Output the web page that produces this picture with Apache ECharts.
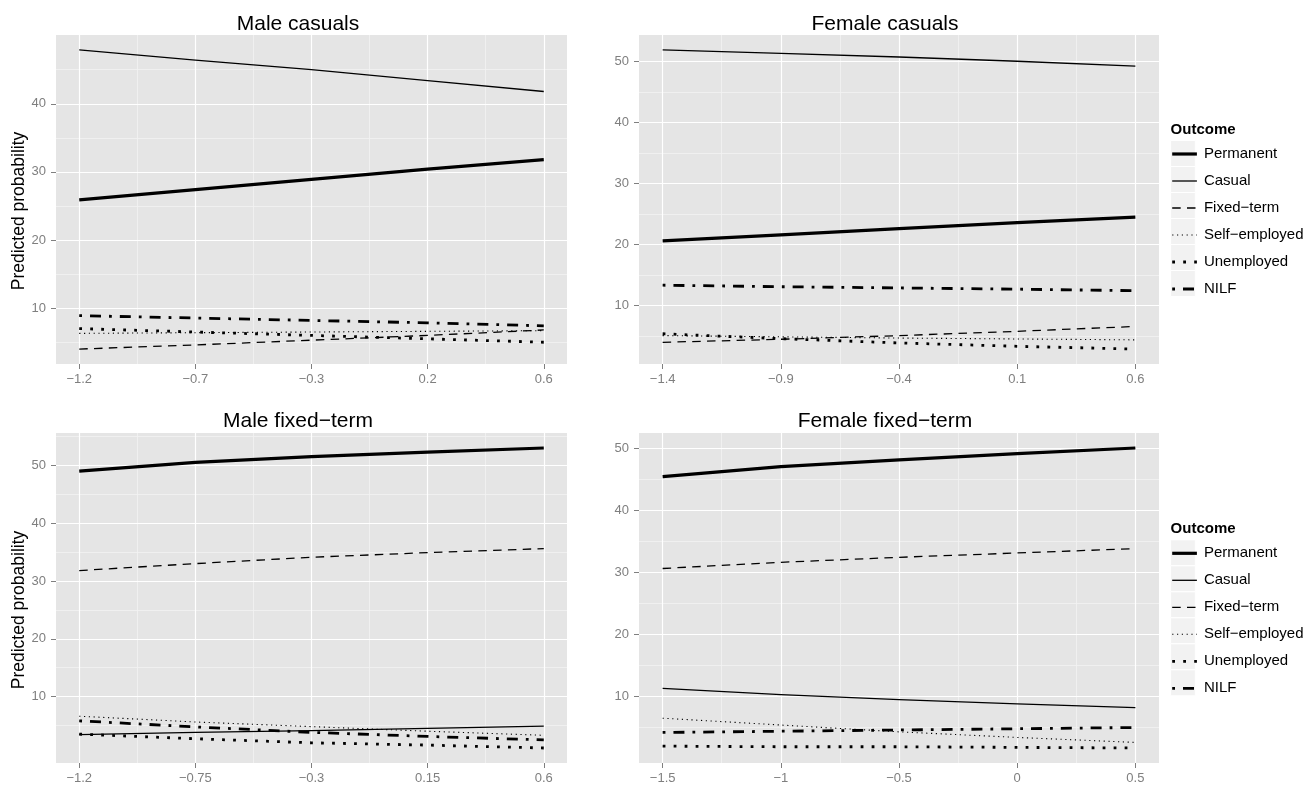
<!DOCTYPE html>
<html>
<head>
<meta charset="utf-8">
<script src="https://cdn.jsdelivr.net/npm/echarts@6/dist/echarts.min.js"></script>
<style>html,body{margin:0;padding:0;background:#fff}#chart{width:1311px;height:787px}</style>
</head>
<body>
<div id="chart"></div>
<script>
// ---------- text ----------
const outcomes = ['Permanent', 'Casual', 'Fixed−term', 'Self−employed', 'Unemployed', 'NILF'];
const panelTitles = ['Male casuals', 'Female casuals', 'Male fixed−term', 'Female fixed−term'];
const yAxisTitle = 'Predicted probability';
const legendTitle = 'Outcome';

// ---------- x positions and tick labels ----------
const xMaleCasual = [-1.2, -0.75, -0.3, 0.15, 0.6];
const xFemaleCasual = [-1.4, -0.9, -0.4, 0.1, 0.6];
const xMaleFixed = [-1.2, -0.75, -0.3, 0.15, 0.6];
const xFemaleFixed = [-1.5, -1, -0.5, 0, 0.5];
const xLabelsMaleCasual = ['−1.2', '−0.7', '−0.3', '0.2', '0.6'];
const xLabelsFemaleCasual = ['−1.4', '−0.9', '−0.4', '0.1', '0.6'];
const xLabelsMaleFixed = ['−1.2', '−0.75', '−0.3', '0.15', '0.6'];
const xLabelsFemaleFixed = ['−1.5', '−1', '−0.5', '0', '0.5'];
const yTicksMaleCasual = [10, 20, 30, 40];
const yTicksFemaleCasual = [10, 20, 30, 40, 50];
const yTicksMaleFixed = [10, 20, 30, 40, 50];
const yTicksFemaleFixed = [10, 20, 30, 40, 50];

// ---------- series values (Permanent, Casual, Fixed-term, Self-employed, Unemployed, NILF) ----------
const maleCasualPermanent = [25.9, 27.4, 28.9, 30.4, 31.8];
const maleCasualCasual = [47.9, 46.4, 45.0, 43.4, 41.8];
const maleCasualFixed = [4.0, 4.6, 5.3, 6.0, 6.8];
const maleCasualSelf = [6.3, 6.4, 6.5, 6.6, 6.7];
const maleCasualUnemployed = [7.0, 6.5, 6.0, 5.5, 5.0];
const maleCasualNilf = [8.9, 8.55, 8.2, 7.85, 7.4];

const femaleCasualPermanent = [20.6, 21.6, 22.6, 23.6, 24.5];
const femaleCasualCasual = [51.85, 51.3, 50.7, 50.0, 49.2];
const femaleCasualFixed = [4.0, 4.5, 5.1, 5.8, 6.6];
const femaleCasualSelf = [5.1, 4.9, 4.7, 4.55, 4.4];
const femaleCasualUnemployed = [5.4, 4.6, 3.9, 3.35, 2.9];
const femaleCasualNilf = [13.35, 13.1, 12.9, 12.7, 12.45];

const maleFixedPermanent = [49.0, 50.5, 51.5, 52.3, 53.0];
const maleFixedCasual = [3.4, 3.8, 4.1, 4.5, 4.9];
const maleFixedFixed = [31.8, 33.0, 34.1, 34.9, 35.6];
const maleFixedSelf = [6.6, 5.6, 4.8, 4.0, 3.3];
const maleFixedUnemployed = [3.5, 2.7, 2.0, 1.6, 1.1];
const maleFixedNilf = [5.8, 4.75, 3.8, 3.1, 2.5];

const femaleFixedPermanent = [45.4, 47.0, 48.1, 49.1, 50.0];
const femaleFixedCasual = [11.3, 10.3, 9.5, 8.8, 8.2];
const femaleFixedFixed = [30.6, 31.6, 32.4, 33.1, 33.8];
const femaleFixedSelf = [6.5, 5.4, 4.3, 3.4, 2.6];
const femaleFixedUnemployed = [2.0, 1.9, 1.9, 1.8, 1.7];
const femaleFixedNilf = [4.2, 4.4, 4.6, 4.8, 5.0];

// ---------- styles / layout ----------
const FONT = "'Liberation Sans', Arial, Helvetica, sans-serif";
const outcomeWidths = [3.2, 1.3, 1.3, 1.1, 2.8, 2.8];
const outcomeDashes = ['solid', 'solid', [8.5, 6.3], [1.2, 3.6], [2.8, 8.2], [2.8, 8, 11, 8]];
const gridRects = [
  { left: 56, top: 35, width: 511, height: 329 },
  { left: 639, top: 35, width: 520, height: 329 },
  { left: 56, top: 433, width: 511, height: 330 },
  { left: 639, top: 433, width: 520, height: 330 }
];
const titleCenters = [[298, 24], [885, 24], [298, 421.5], [885, 421.5]];
const yTitleCenters = [[19, 211], [19, 610]];
const legendLeft = 1170.6, legendKeyW = 24.7, legendPitch = 26;
const legendFirstRow = [153.5, 552.8];
const legendTitleY = [130, 529];

const panels = [
  { x: xMaleCasual, labels: xLabelsMaleCasual, yTicks: yTicksMaleCasual,
    values: [maleCasualPermanent, maleCasualCasual, maleCasualFixed, maleCasualSelf, maleCasualUnemployed, maleCasualNilf] },
  { x: xFemaleCasual, labels: xLabelsFemaleCasual, yTicks: yTicksFemaleCasual,
    values: [femaleCasualPermanent, femaleCasualCasual, femaleCasualFixed, femaleCasualSelf, femaleCasualUnemployed, femaleCasualNilf] },
  { x: xMaleFixed, labels: xLabelsMaleFixed, yTicks: yTicksMaleFixed,
    values: [maleFixedPermanent, maleFixedCasual, maleFixedFixed, maleFixedSelf, maleFixedUnemployed, maleFixedNilf] },
  { x: xFemaleFixed, labels: xLabelsFemaleFixed, yTicks: yTicksFemaleFixed,
    values: [femaleFixedPermanent, femaleFixedCasual, femaleFixedFixed, femaleFixedSelf, femaleFixedUnemployed, femaleFixedNilf] }
];

function minorsOf(ticks) {
  const out = [];
  const step0 = ticks[1] - ticks[0];
  out.push(ticks[0] - step0 / 2);
  for (let i = 0; i < ticks.length - 1; i++) out.push((ticks[i] + ticks[i + 1]) / 2);
  const stepN = ticks[ticks.length - 1] - ticks[ticks.length - 2];
  out.push(ticks[ticks.length - 1] + stepN / 2);
  return out;
}
function nearestIndex(arr, v) {
  let best = 0;
  for (let i = 1; i < arr.length; i++) if (Math.abs(arr[i] - v) < Math.abs(arr[best] - v)) best = i;
  return best;
}

const grids = [], xAxes = [], yAxes = [], series = [];
panels.forEach((p, i) => {
  const g = gridRects[i];
  grids.push({ left: g.left, top: g.top, width: g.width, height: g.height, show: true,
    backgroundColor: '#E5E5E5', borderWidth: 0, containLabel: false });
  const xlo = Math.min(...p.x), xhi = Math.max(...p.x);
  const xpad = 0.05 * (xhi - xlo);
  const allY = [].concat(...p.values);
  const ylo = Math.min(...allY), yhi = Math.max(...allY);
  const ypad = 0.05 * (yhi - ylo);
  const xMin = xlo - xpad, xMax = xhi + xpad, yMin = ylo - ypad, yMax = yhi + ypad;
  const xMinor = minorsOf(p.x).filter(v => v >= xMin && v <= xMax);
  const yMinor = minorsOf(p.yTicks).filter(v => v >= yMin && v <= yMax);

  // major x
  xAxes.push({
    type: 'value', gridIndex: i, min: xMin, max: xMax, position: 'bottom', z: 1.5,
    axisLine: { show: false, onZero: false },
    axisTick: { show: true, length: 5, customValues: p.x, lineStyle: { color: '#7F7F7F', width: 1 } },
    axisLabel: { customValues: p.x, formatter: v => p.labels[nearestIndex(p.x, v)],
      color: '#7F7F7F', fontSize: 13, fontFamily: FONT, margin: 9 },
    splitLine: { show: true, lineStyle: { color: '#FFFFFF', width: 1.2 } }
  });
  // minor x
  xAxes.push({
    type: 'value', gridIndex: i, min: xMin, max: xMax, position: 'top', z: 1,
    axisLine: { show: false, onZero: false },
    axisTick: { show: false, customValues: xMinor },
    axisLabel: { show: false, customValues: xMinor },
    splitLine: { show: true, lineStyle: { color: '#F2F2F2', width: 0.8 } }
  });
  // major y
  yAxes.push({
    type: 'value', gridIndex: i, min: yMin, max: yMax, position: 'left', z: 1.5,
    axisLine: { show: false, onZero: false },
    axisTick: { show: true, length: 5, customValues: p.yTicks, lineStyle: { color: '#7F7F7F', width: 1 } },
    axisLabel: { customValues: p.yTicks, color: '#7F7F7F', fontSize: 13, fontFamily: FONT, margin: 10 },
    splitLine: { show: true, lineStyle: { color: '#FFFFFF', width: 1.2 } }
  });
  // minor y
  yAxes.push({
    type: 'value', gridIndex: i, min: yMin, max: yMax, position: 'right', z: 1,
    axisLine: { show: false, onZero: false },
    axisTick: { show: false, customValues: yMinor },
    axisLabel: { show: false, customValues: yMinor },
    splitLine: { show: true, lineStyle: { color: '#F2F2F2', width: 0.8 } }
  });

  outcomes.forEach((name, k) => {
    series.push({
      name, type: 'line', xAxisIndex: 2 * i, yAxisIndex: 2 * i, z: 3,
      symbol: 'none', smooth: false, silent: true,
      data: p.x.map((x, j) => [x, p.values[k][j]]),
      lineStyle: { color: '#000000', width: outcomeWidths[k], type: outcomeDashes[k], cap: 'butt', join: 'round' }
    });
  });
});

const graphic = [];
panelTitles.forEach((t, i) => {
  graphic.push({ type: 'text', x: titleCenters[i][0], y: titleCenters[i][1], z: 10,
    style: { text: t, font: '21px ' + FONT, fill: '#000', align: 'center', verticalAlign: 'middle' } });
});
yTitleCenters.forEach(c => {
  graphic.push({ type: 'text', x: c[0], y: c[1], rotation: Math.PI / 2, z: 10,
    style: { text: yAxisTitle, font: '17.5px ' + FONT, fill: '#000', align: 'center', verticalAlign: 'middle' } });
});
legendTitleY.forEach(y => {
  graphic.push({ type: 'text', x: legendLeft, y: y, z: 10,
    style: { text: legendTitle, font: 'bold 15px ' + FONT, fill: '#000', align: 'left', verticalAlign: 'middle' } });
});
legendFirstRow.forEach(c0 => {
  outcomes.forEach((n, k) => {
    graphic.push({ type: 'rect', z: 1,
      shape: { x: legendLeft, y: c0 + k * legendPitch - legendPitch / 2, width: legendKeyW, height: legendPitch },
      style: { fill: '#F2F2F2', stroke: '#FFFFFF', lineWidth: 1 } });
  });
});

const legends = legendFirstRow.map(c0 => ({
  orient: 'vertical', left: legendLeft, top: c0 - 7, padding: 0,
  itemWidth: legendKeyW, itemHeight: 14, itemGap: legendPitch - 14,
  selectedMode: false, z: 5,
  itemStyle: { opacity: 0 },
  textStyle: { fontSize: 15, color: '#000', fontFamily: FONT, lineHeight: 14, padding: [0, 0, 0, 2] },
  data: outcomes.map((n, k) => ({
    name: n,
    itemStyle: { opacity: 0 },
    lineStyle: { color: '#000', width: outcomeWidths[k], type: outcomeDashes[k], cap: 'butt', opacity: 1 }
  }))
}));

const chart = echarts.init(document.getElementById('chart'), null, { renderer: 'canvas' });
chart.setOption({
  animation: false,
  backgroundColor: '#FFFFFF',
  textStyle: { fontFamily: FONT },
  grid: grids,
  xAxis: xAxes,
  yAxis: yAxes,
  legend: legends,
  graphic: graphic,
  series: series
});
</script>
</body>
</html>
